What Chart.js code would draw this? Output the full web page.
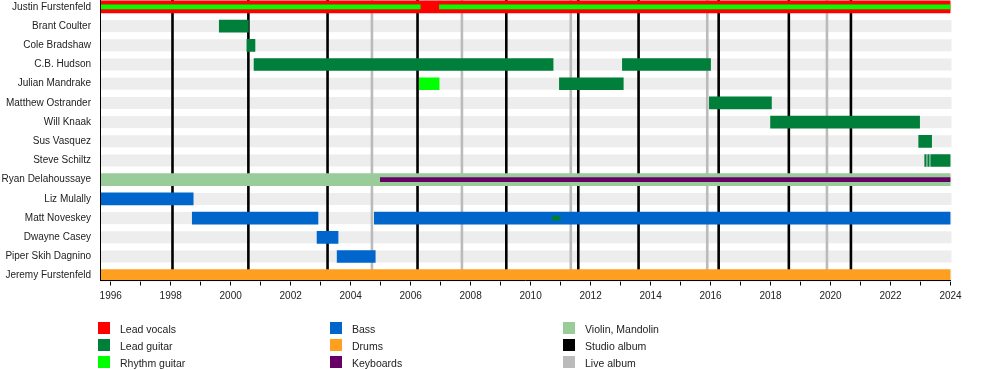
<!DOCTYPE html>
<html><head><meta charset="utf-8">
<script src="https://cdn.jsdelivr.net/npm/chart.js@4.4.1/dist/chart.umd.min.js"></script>
<style>
html,body{margin:0;padding:0;background:#fff;}
#wrap{position:relative;width:1000px;height:370px;font-family:'Liberation Sans',Arial,sans-serif;overflow:hidden;}
#c{position:absolute;left:0;top:0;}
.lt{position:absolute;font-size:10.5px;color:#222;line-height:12px;white-space:nowrap;}
.sw{position:absolute;width:12px;height:12px;}
</style></head><body>
<div id="wrap"><canvas id="c" width="1000" height="370"></canvas><div id="legend"></div></div>
<script>
// ---- data ----
const members = ['Justin Furstenfeld','Brant Coulter','Cole Bradshaw','C.B. Hudson','Julian Mandrake','Matthew Ostrander','Will Knaak','Sus Vasquez','Steve Schiltz','Ryan Delahoussaye','Liz Mulally','Matt Noveskey','Dwayne Casey','Piper Skih Dagnino','Jeremy Furstenfeld'];
const startYear = 1995.643;
const endYear = 2024;
const leadVocals = [['Justin Furstenfeld', 1995.643, 2024]];
const leadGuitar = [['Brant Coulter',1999.62,2000.59],['Cole Bradshaw',2000.54,2000.81],['C.B. Hudson',2000.78,2010.75],['C.B. Hudson',2013.06,2016.0],['Julian Mandrake',2010.96,2013.09],['Matthew Ostrander',2015.96,2018.03],['Will Knaak',2018.0,2022.97],['Sus Vasquez',2022.94,2023.37],['Steve Schiltz',2023.14,2023.19],['Steve Schiltz',2023.24,2023.29],['Steve Schiltz',2023.34,2024]];
const leadGuitarStripe = [['Matt Noveskey',2010.71,2010.99]];
const rhythmGuitar = [['Julian Mandrake',2006.29,2006.95]];
const rhythmGuitarStripe = [['Justin Furstenfeld',1995.643,2006.32],['Justin Furstenfeld',2006.96,2024]];
const bass = [['Liz Mulally',1995.643,1998.75],['Matt Noveskey',1998.72,2002.91],['Matt Noveskey',2004.79,2024],['Dwayne Casey',2002.88,2003.58],['Piper Skih Dagnino',2003.55,2004.82]];
const drums = [['Jeremy Furstenfeld',1995.643,2024]];
const violinMandolin = [['Ryan Delahoussaye',1995.643,2024]];
const keyboardsStripe = [['Ryan Delahoussaye',2004.99,2024]];
const studioAlbums = [1998.06,2000.59,2003.23,2006.23,2009.19,2011.59,2013.60,2016.27,2018.61,2020.68];
const liveAlbums = [2004.71,2007.71,2011.34,2015.89,2019.88];
const tickYears = [1996,1997,1998,1999,2000,2001,2002,2003,2004,2005,2006,2007,2008,2009,2010,2011,2012,2013,2014,2015,2016,2017,2018,2019,2020,2021,2022,2023,2024];
const tickLabels = ['1996','','1998','','2000','','2002','','2004','','2006','','2008','','2010','','2012','','2014','','2016','','2018','','2020','','2022','','2024'];
const legendLabels = ['Lead vocals','Lead guitar','Rhythm guitar','Bass','Drums','Keyboards','Violin, Mandolin','Studio album','Live album'];
const legendColors = ['#ff0000','#007f3a','#00ff00','#0066cc','#ff9f1f','#660066','#99cc99','#000000','#bbbbbb'];

// ---- helpers ----
const toData = arr => arr.map(([m,s,e]) => ({x:[s,e], y:members.indexOf(m)}));
function ds(label, arr, color, thick){
  return {label, data: toData(arr), backgroundColor: color, borderWidth: 0,
          barThickness: thick, grouped: false, borderSkipped: false};
}

const bgPlugin = {
  id: 'bgStripesAndAlbums',
  beforeDatasetsDraw(chart){
    const {ctx, chartArea: a, scales: {x, y}} = chart;
    ctx.save();
    ctx.fillStyle = '#ededed';
    const x0 = x.getPixelForValue(startYear), x1 = x.getPixelForValue(endYear);
    members.forEach((m, i) => {
      const yc = y.getPixelForValue(i);
      ctx.fillRect(x0, yc - 6, x1 - x0 + 1, 12);
    });
    ctx.lineWidth = 2.6;
    const line = (v, c) => {
      const px = x.getPixelForValue(v);
      ctx.strokeStyle = c;
      ctx.beginPath(); ctx.moveTo(px, a.top); ctx.lineTo(px, a.bottom); ctx.stroke();
    };
    liveAlbums.forEach(v => line(v, '#bbbbbb'));
    studioAlbums.forEach(v => line(v, '#000000'));
    ctx.restore();
  }
};

Chart.defaults.font.family = "'Liberation Sans', Arial, sans-serif";

new Chart(document.getElementById('c'), {
  type: 'bar',
  data: {
    datasets: [
      ds('Lead vocals', leadVocals, '#ff0000', 12),
      ds('Lead guitar', leadGuitar, '#007f3a', 12),
      ds('Rhythm guitar', rhythmGuitar, '#00ff00', 12),
      ds('Bass', bass, '#0066cc', 12),
      ds('Drums', drums, '#ff9f1f', 12),
      ds('Violin, Mandolin', violinMandolin, '#99cc99', 12),
      Object.assign(ds('Rhythm guitar', rhythmGuitarStripe, '#00ff00', 4), {order: -1}),
      Object.assign(ds('Lead guitar', leadGuitarStripe, '#007f3a', 4), {order: -1}),
      Object.assign(ds('Keyboards', keyboardsStripe, '#660066', 4), {order: -1})
    ]
  },
  options: {
    indexAxis: 'y',
    responsive: false,
    animation: false,
    layout: {padding: {left: 0, right: 49.5, top: 0, bottom: 59.5}},
    plugins: {legend: {display: false}, tooltip: {enabled: false}},
    scales: {
      x: {
        type: 'linear', position: 'bottom', min: startYear, max: endYear, offset: false,
        afterBuildTicks: s => { s.ticks = tickYears.map(v => ({value: v})); },
        afterFit: s => { s.height = 30; s.paddingLeft = 0; s.paddingRight = 0; },
        ticks: {autoSkip: false, maxRotation: 0, minRotation: 0, padding: 5, color: '#222',
                font: {size: 10}, callback: (v, i) => tickLabels[i]},
        grid: {drawOnChartArea: false, drawTicks: true, tickLength: 5, color: '#000', tickWidth: 1, offset: false},
        border: {display: true, color: '#000', width: 1, z: 1}
      },
      y: {
        type: 'linear', reverse: true, min: -0.36, max: 14.25, offset: false,
        afterBuildTicks: s => { s.ticks = members.map((m, i) => ({value: i})); },
        afterFit: s => { s.width = 100; s.paddingTop = 0; s.paddingBottom = 0; },
        ticks: {autoSkip: false, padding: 9, color: '#222', font: {size: 10},
                callback: v => members[v]},
        grid: {display: false, drawTicks: false, tickLength: 0, offset: false},
        border: {display: true, color: '#000', width: 1, z: 1}
      }
    }
  },
  plugins: [bgPlugin]
});

// ---- HTML legend ----
const colX = [98, 330, 563];
const legend = document.getElementById('legend');
legendLabels.forEach((lab, i) => {
  const col = Math.floor(i / 3), row = i % 3;
  const top = 322 + row * 17;
  const sw = document.createElement('div');
  sw.className = 'sw'; sw.style.left = colX[col] + 'px'; sw.style.top = top + 'px';
  sw.style.background = legendColors[i];
  legend.appendChild(sw);
  const t = document.createElement('div');
  t.className = 'lt'; t.style.left = (colX[col] + 22) + 'px'; t.style.top = (top + 1) + 'px';
  t.textContent = lab;
  legend.appendChild(t);
});
</script>
</body></html>
